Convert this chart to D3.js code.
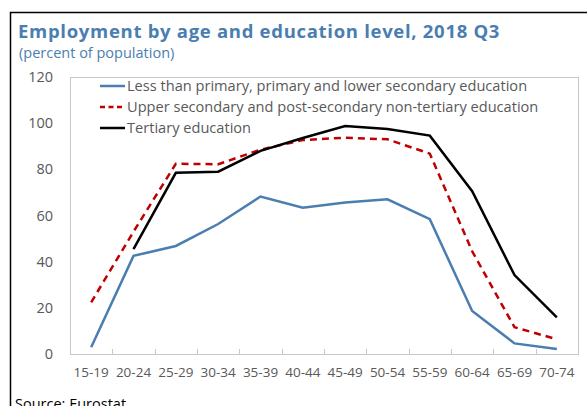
<!DOCTYPE html>
<html><head><meta charset="utf-8">
<script src="https://cdn.jsdelivr.net/npm/d3@7/dist/d3.min.js"></script>
<style>
html,body{margin:0;padding:0;background:#fff;overflow:hidden;}
svg{display:block;font-family:"Open Sans","Noto Sans",sans-serif;}
</style></head>
<body>
<script>
const categories = ["15-19","20-24","25-29","30-34","35-39","40-44","45-49","50-54","55-59","60-64","65-69","70-74"];
const lowerSecondary = [2.9,42.5,46.8,56.3,68.2,63.4,65.6,67.0,58.4,18.6,4.6,2.2];
const upperSecondary = [22.4,53,82.4,82.2,88.5,92.7,93.7,93.0,86.8,44.5,11.6,6.4];
const tertiary = [null,45.4,78.5,79.0,88.0,93.6,98.8,97.5,94.6,70.5,34.2,15.9];
const yTicks = [0,20,40,60,80,100,120];
const seriesNames = ["Less than primary, primary and lower secondary education","Upper secondary and post-secondary non-tertiary education","Tertiary education"];

const W=587,H=406;
const svg=d3.select("body").append("svg").attr("width",W).attr("height",H);
const m={l:70,t:77,r:578,b:354};
const x=d3.scaleBand().domain(categories).range([m.l,m.r]);
const y=d3.scaleLinear().domain([0,120]).range([m.b,m.t]);

// frame
svg.append("path").attr("d",`M10.5,${H} V12.5 H${W}`).attr("fill","none").attr("stroke","#000").attr("stroke-width",1.5);

svg.append("text").attr("x",18).attr("y",38).attr("fill","#4a7eb0").attr("font-size",18.5).attr("font-weight",700).attr("letter-spacing",0.7).text("Employment by age and education level, 2018 Q3");
svg.append("text").attr("x",19).attr("y",58).attr("fill","#4a7eb0").attr("font-size",14.5).text("(percent of population)");

// plot border
svg.append("rect").attr("x",m.l+0.5).attr("y",m.t+0.5).attr("width",m.r-m.l).attr("height",m.b-m.t).attr("fill","none").attr("stroke","#c8c8c8").attr("stroke-width",1);

// y axis labels
const yAx=d3.axisLeft(y).tickValues(yTicks).tickSize(0).tickPadding(17);
const gy=svg.append("g").attr("transform",`translate(${m.l},0)`).call(yAx);
gy.select(".domain").remove();
gy.selectAll("text").attr("fill","#595959").attr("font-size",14.5).attr("font-family","Open Sans");

// x axis
const xTickPos = d3.range(1,categories.length).map(i=>m.l+i*x.bandwidth());
svg.append("g").selectAll("line").data(xTickPos).join("line")
  .attr("x1",d=>Math.round(d)+0.5).attr("x2",d=>Math.round(d)+0.5).attr("y1",m.b).attr("y2",m.b-5).attr("stroke","#c8c8c8");
const xAx=d3.axisBottom(x).tickSize(0).tickPadding(13);
const gx=svg.append("g").attr("transform",`translate(0,${m.b})`).call(xAx);
gx.select(".domain").remove();
gx.selectAll("text").attr("fill","#595959").attr("font-size",13.5).attr("font-family","Open Sans");

const line=d3.line().defined(d=>d.v!=null).x(d=>x(d.c)+x.bandwidth()/2).y(d=>y(d.v));
const series=[
  {vals:lowerSecondary,color:"#4a7eb0",dash:null},
  {vals:upperSecondary,color:"#c00000",dash:"7,5"},
  {vals:tertiary,color:"#000",dash:null}
];
series.forEach(s=>{
  svg.append("path").datum(categories.map((c,i)=>({c,v:s.vals[i]})))
    .attr("d",line).attr("fill","none").attr("stroke",s.color).attr("stroke-width",2.5)
    .attr("stroke-dasharray",s.dash).attr("stroke-linejoin","miter");
});

// legend
const ly=[86,107,128];
series.forEach((s,i)=>{
  svg.append("line").attr("x1",100).attr("x2",125).attr("y1",ly[i]).attr("y2",ly[i]).attr("stroke",s.color).attr("stroke-width",2.5).attr("stroke-dasharray",s.dash?"5,3.5":null);
  svg.append("text").attr("x",127).attr("y",ly[i]+5).attr("fill","#595959").attr("font-size",14.6).text(seriesNames[i]);
});

svg.append("text").attr("x",15).attr("y",409).attr("fill","#000").attr("font-size",14.5).text("Source: Eurostat");
</script>
</body></html>
